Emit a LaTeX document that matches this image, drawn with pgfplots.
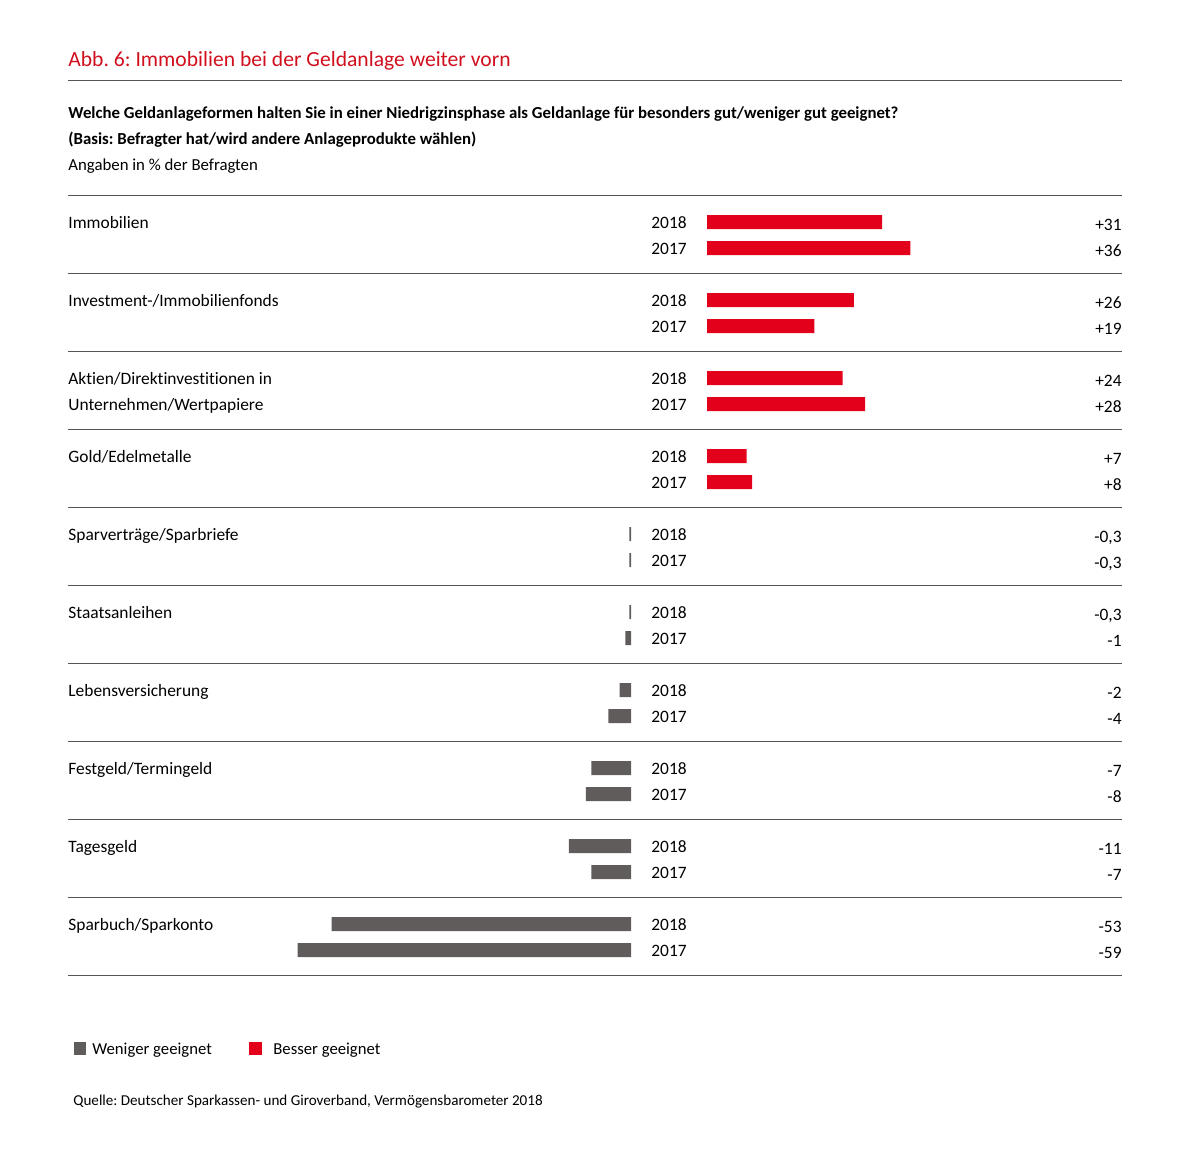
\documentclass[border=0pt]{standalone}
\usepackage{pgfplots}
\pgfplotsset{compat=1.18}
\usepackage{fontspec}
\setmainfont{Carlito}[RawFeature={-liga}]
\frenchspacing
\definecolor{spred}{HTML}{E2001A}
\definecolor{titlered}{HTML}{D0101E}
\definecolor{spgrey}{HTML}{615C5C}
\definecolor{rulegrey}{HTML}{555555}
\newcommand{\bodyfont}{\fontsize{8.7}{10}\selectfont}
\begin{document}
\begin{tikzpicture}[x=0.5pt,y=-0.5pt]
\path[use as bounding box] (0,0) rectangle (1191,1157);
% header
\node[anchor=base west,inner sep=0pt,text=titlered,font=\fontsize{10.8}{12}\selectfont] at (68,66) {Abb. 6: Immobilien bei der Geldanlage weiter vorn};
\draw[rulegrey,line width=0.5pt] (68,80) -- (1122,80);
\node[anchor=base west,inner sep=0pt,font=\fontsize{8.4}{10}\selectfont\bfseries] at (68,118) {Welche Geldanlageformen halten Sie in einer Niedrigzinsphase als Geldanlage für besonders gut/weniger gut geeignet?};
\node[anchor=base west,inner sep=0pt,font=\fontsize{8.4}{10}\selectfont\bfseries] at (68,144) {(Basis: Befragter hat/wird andere Anlageprodukte wählen)};
\node[anchor=base west,inner sep=0pt,font=\fontsize{8.4}{10}\selectfont] at (68,170) {Angaben in \% der Befragten};
% separators
\foreach \yy in {195,273,351,429,507,585,663,741,819,897,975}
  \draw[rulegrey,line width=0.5pt] (68,\yy) -- (1122,\yy);
% negative axis
\begin{axis}[at={(315.5pt,-97.5pt)},anchor=north east,scale only axis,
  width=281.5pt,height=390pt,xmin=-99.65,xmax=0,ymin=195,ymax=975,
  y dir=reverse,hide axis,xbar,bar width=7pt,bar shift=0pt]
\addplot[fill=spgrey,draw=none] coordinates {
(-0.3,534) (-0.3,560) (-0.3,612) (-1,638) (-2,690) (-4,716)
(-7,768) (-8,794) (-11,846) (-7,872) (-53,924) (-59,950)};
\end{axis}
% positive axis
\begin{axis}[at={(353.5pt,-97.5pt)},anchor=north west,scale only axis,
  width=207.5pt,height=390pt,xmin=0,xmax=73.45,ymin=195,ymax=975,
  y dir=reverse,hide axis,xbar,bar width=7pt,bar shift=0pt]
\addplot[fill=spred,draw=none] coordinates {
(31,222) (36,248) (26,300) (19,326) (24,378) (28,404) (7,456) (8,482)};
\end{axis}
% category labels
\begin{scope}[every node/.style={anchor=base west,inner sep=0pt,font=\bodyfont}]
\node at (68,228) {Immobilien};
\node at (68,306) {Investment-/Immobilienfonds};
\node at (68,384) {Aktien/Direktinvestitionen in};
\node at (68,410) {Unternehmen/Wertpapiere};
\node at (68,462) {Gold/Edelmetalle};
\node at (68,540) {Sparverträge/Sparbriefe};
\node at (68,618) {Staatsanleihen};
\node at (68,696) {Lebensversicherung};
\node at (68,774) {Festgeld/Termingeld};
\node at (68,852) {Tagesgeld};
\node at (68,930) {Sparbuch/Sparkonto};
\end{scope}
% years
\foreach \i in {0,...,9}{
  \node[anchor=base west,inner sep=0pt,font=\bodyfont] at (651,{228+78*\i}) {2018};
  \node[anchor=base west,inner sep=0pt,font=\bodyfont] at (651,{254+78*\i}) {2017};
}
% values
\begin{scope}[every node/.style={anchor=base east,inner sep=0pt,font=\bodyfont}]
\node at (1122,230) {+31}; \node at (1122,256) {+36};
\node at (1122,308) {+26}; \node at (1122,334) {+19};
\node at (1122,386) {+24}; \node at (1122,412) {+28};
\node at (1122,464) {+7}; \node at (1122,490) {+8};
\node at (1122,542) {-0,3}; \node at (1122,568) {-0,3};
\node at (1122,620) {-0,3}; \node at (1122,646) {-1};
\node at (1122,698) {-2}; \node at (1122,724) {-4};
\node at (1122,776) {-7}; \node at (1122,802) {-8};
\node at (1122,854) {-11}; \node at (1122,880) {-7};
\node at (1122,932) {-53}; \node at (1122,958) {-59};
\end{scope}
% legend
\fill[spgrey] (74,1042) rectangle (86,1055);
\node[anchor=base west,inner sep=0pt,font=\fontsize{8.35}{10}\selectfont] at (92,1054) {Weniger geeignet};
\fill[spred] (249,1042) rectangle (262,1055);
\node[anchor=base west,inner sep=0pt,font=\fontsize{8.35}{10}\selectfont] at (273,1054) {Besser geeignet};
% source
\node[anchor=base west,inner sep=0pt,font=\fontsize{7.55}{9}\selectfont] at (73,1105) {Quelle: Deutscher Sparkassen- und Giroverband, Vermögensbarometer 2018};
\end{tikzpicture}
\end{document}
